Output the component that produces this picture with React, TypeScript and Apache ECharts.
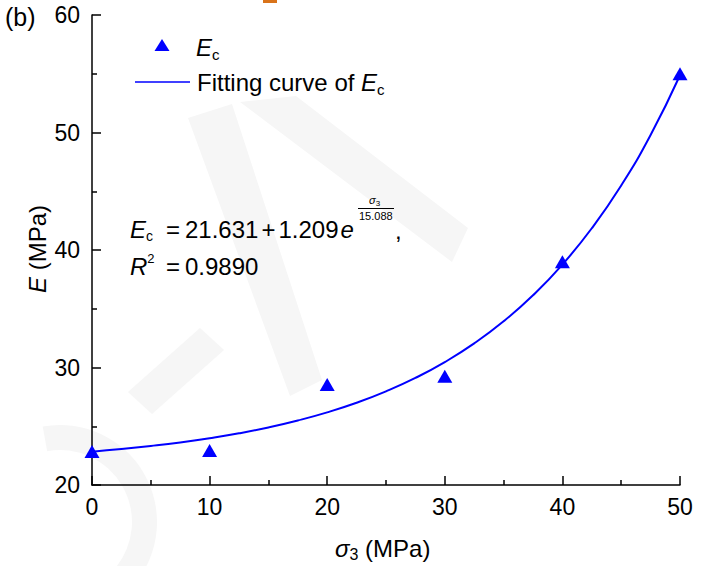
import React, { useEffect, useRef } from "react";
import * as echarts from "echarts";

const sigma3 = [0, 10, 20, 30, 40, 50];
const ecValues = [22.85, 22.93, 28.55, 29.25, 39.0, 55.0];
const fitX = [0, 2.5, 5, 7.5, 10, 12.5, 15, 17.5, 20, 22.5, 25, 27.5, 30, 32.5, 35, 37.5, 40, 42.5, 45, 47.5, 50];
const fitY = [22.84, 23.06, 23.32, 23.62, 23.98, 24.4, 24.9, 25.49, 26.18, 27.0, 27.97, 29.11, 30.46, 32.05, 33.93, 36.15, 38.76, 41.85, 45.49, 49.79, 54.87];
const xTicks = [0, 10, 20, 30, 40, 50];
const yTicks = [20, 30, 40, 50, 60];

const FONT = "Liberation Sans, Arial, sans-serif";
const BLUE = "#0000ff";
const WM = "#f6f6f6";

type Run = { t: string; size: number; italic?: boolean; dy?: number; gap?: number; x?: number };

let ctx: CanvasRenderingContext2D | null = null;
function measure(t: string, size: number, italic?: boolean) {
  if (!ctx) ctx = document.createElement("canvas").getContext("2d");
  if (!ctx) return t.length * size * 0.55;
  ctx.font = `${italic ? "italic " : ""}${size}px Liberation Sans`;
  return ctx.measureText(t).width;
}

function layout(x0: number, yc: number, runs: Run[]) {
  const out: any[] = [];
  let x = x0;
  for (const r of runs) {
    if (r.x !== undefined) x = r.x;
    x += r.gap || 0;
    out.push({
      type: "text",
      x,
      y: yc + (r.dy || 0),
      silent: true,
      style: {
        text: r.t,
        font: `${r.italic ? "italic " : ""}${r.size}px ${FONT}`,
        fill: "#000",
        align: "left",
        verticalAlign: "middle",
      },
    });
    x += measure(r.t, r.size, r.italic);
  }
  return out;
}

export default function App() {
  const ref = useRef<HTMLDivElement>(null);
  useEffect(() => {
    document.body.style.margin = "0";
    if (!ref.current) return;
    const chart = echarts.init(ref.current, null, { renderer: "svg" });
    const axisCommon = {
      axisLine: { show: true, onZero: false, lineStyle: { color: "#000", width: 1.5 } },
      axisTick: { show: true, inside: true, length: 9, lineStyle: { color: "#000", width: 1.5 } },
      minorTick: { show: true, splitNumber: 2, length: 5, lineStyle: { color: "#000", width: 1.5 } },
      splitLine: { show: false },
    };
    const F = 24;
    const L = 24;
    chart.setOption({
      animation: false,
      backgroundColor: "#fff",
      grid: { left: 92, right: 22, top: 15, bottom: 81, containLabel: false },
      xAxis: {
        type: "value",
        min: xTicks[0],
        max: xTicks[xTicks.length - 1],
        interval: 10,
        ...axisCommon,
        axisLabel: { color: "#000", fontSize: 23, fontFamily: FONT, margin: 10 },
      },
      yAxis: {
        type: "value",
        min: yTicks[0],
        max: yTicks[yTicks.length - 1],
        interval: 10,
        ...axisCommon,
        axisLabel: { color: "#000", fontSize: 23, fontFamily: FONT, margin: 12 },
      },
      series: [
        {
          type: "line",
          data: fitX.map((x, i) => [x, fitY[i]]),
          smooth: true,
          showSymbol: false,
          lineStyle: { color: BLUE, width: 2 },
          z: 2,
        },
        {
          type: "scatter",
          data: sigma3.map((x, i) => [x, ecValues[i]]),
          symbol: "triangle",
          symbolSize: [15, 13],
          itemStyle: { color: BLUE, opacity: 1 },
          z: 3,
        },
      ],
      graphic: [
        // faint watermark shapes
        { type: "sector", z: -5, shape: { cx: 60, cy: 522, r0: 72, r: 97, startAngle: -1.75, endAngle: 0.7 }, style: { fill: WM } },
        { type: "polygon", z: -5, shape: { points: [[128, 392], [152, 414], [224, 350], [200, 328]] }, style: { fill: WM } },
        { type: "polygon", z: -5, shape: { points: [[188, 118], [232, 104], [322, 380], [290, 396]] }, style: { fill: WM } },
        { type: "polygon", z: -5, shape: { points: [[240, 102], [296, 96], [468, 228], [452, 262]] }, style: { fill: WM } },
        { type: "rect", shape: { x: 263, y: 0, width: 14, height: 3 }, style: { fill: "#d9731a" } },
        ...layout(5, 17, [{ t: "(b)", size: 25 }]),
        // legend
        { type: "polygon", shape: { points: [[162, 39], [169.5, 51], [154.5, 51]] }, style: { fill: BLUE } },
        ...layout(196, 47, [
          { t: "E", size: L, italic: true },
          { t: "c", size: 15, dy: 7 },
        ]),
        { type: "line", shape: { x1: 135, y1: 82, x2: 190, y2: 82 }, style: { stroke: BLUE, lineWidth: 1.5 } },
        ...layout(197, 82, [
          { t: "Fitting curve of ", size: L },
          { t: "E", size: L, italic: true },
          { t: "c", size: 15, dy: 7 },
        ]),
        // formula
        ...layout(130, 229, [
          { t: "E", size: F, italic: true },
          { t: "c", size: 14, dy: 7 },
          { t: "=", size: F, x: 166 },
          { t: "21.631", size: F, x: 185 },
          { t: "+", size: F, gap: 3 },
          { t: "1.209", size: F, gap: 3 },
          { t: "e", size: F, italic: true, gap: 2 },
        ]),
        ...layout(369, 200, [
          { t: "σ", size: 11, italic: true },
          { t: "3", size: 8, dy: 3 },
        ]),
        { type: "line", shape: { x1: 358, y1: 208.5, x2: 394, y2: 208.5 }, style: { stroke: "#000", lineWidth: 1 } },
        ...layout(359, 216, [{ t: "15.088", size: 11 }]),
        ...layout(395, 230, [{ t: ",", size: F }]),
        ...layout(130, 266, [
          { t: "R", size: F, italic: true },
          { t: "2", size: 13, dy: -8 },
          { t: "=", size: F, x: 166 },
          { t: "0.9890", size: F, x: 185 },
        ]),
        // axis titles
        ...layout(335, 548, [
          { t: "σ", size: L, italic: true },
          { t: "3", size: 16, dy: 6 },
          { t: " (MPa)", size: L },
        ]),
        {
          type: "text",
          x: 37,
          y: 249,
          rotation: Math.PI / 2,
          style: {
            text: "{i|E}{n| (MPa)}",
            rich: {
              i: { fontStyle: "italic", fontSize: L, fontFamily: FONT, fill: "#000" },
              n: { fontSize: L, fontFamily: FONT, fill: "#000" },
            },
            align: "center",
            verticalAlign: "middle",
          },
        },
      ],
    });
    return () => chart.dispose();
  }, []);
  return <div ref={ref} style={{ width: 702, height: 566 }} />;
}
